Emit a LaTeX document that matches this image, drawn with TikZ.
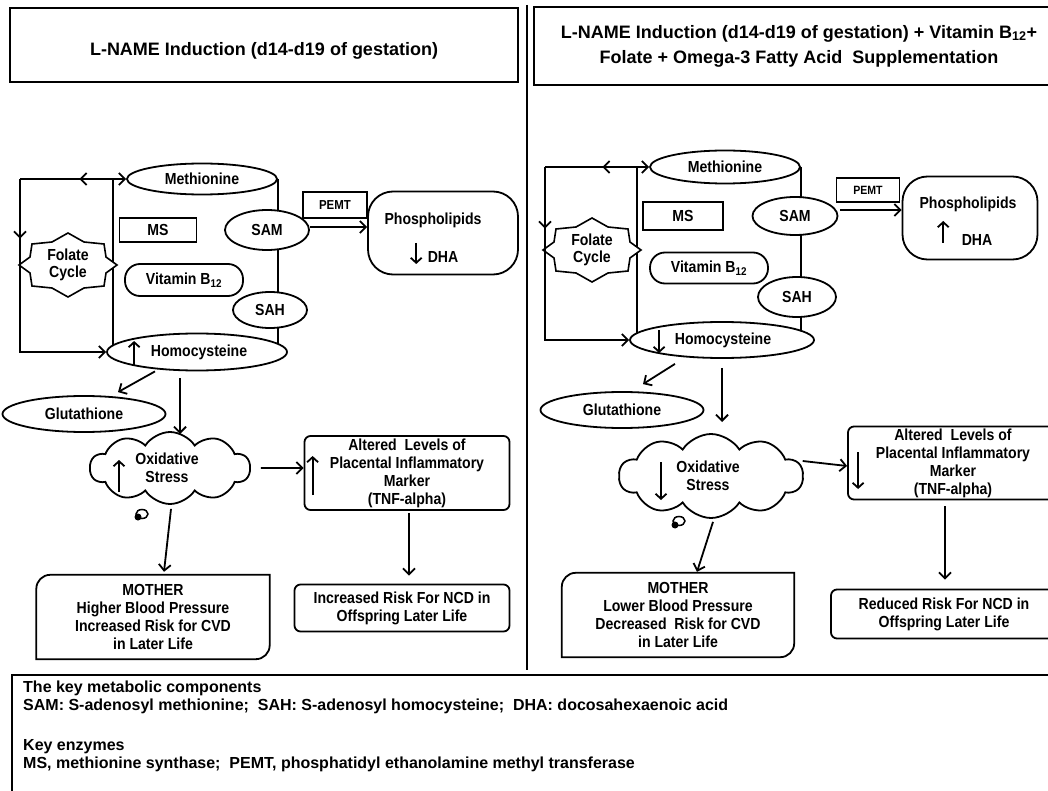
\documentclass[tikz,border=0pt]{standalone}
\usepackage{fontspec}
\setmainfont{Liberation Sans}
\newfontfamily\nodefont[FakeStretch=0.88]{Liberation Sans}
\usetikzlibrary{shapes.geometric, shapes.symbols, arrows.meta, calc, backgrounds, decorations.markings}

% box with two rounded corners (top left, bottom right)
\newcommand{\diagframe}[1]{\draw[line] (#1.north east) -- ([xshift=14pt]#1.north west) arc[start angle=90, end angle=180, radius=14pt] -- (#1.south west) -- ([xshift=-14pt]#1.south east) arc[start angle=270, end angle=360, radius=14pt] -- cycle;}
% eight-point seal round a centre (about 98 x 64)
\newcommand{\sealpath}[1]{\draw[line width=1.6pt, fill=white] (#1) +(49,0) -- +(38,8) -- +(36,21) -- +(16,23) -- +(0,32) -- +(-16,23) -- +(-36,21) -- +(-38,8) -- +(-49,0) -- +(-38,-8) -- +(-36,-21) -- +(-16,-23) -- +(0,-32) -- +(16,-23) -- +(36,-21) -- +(38,-8) -- cycle;}

\begin{document}
\begin{tikzpicture}[x=1pt, y=-1pt,
    font=\nodefont\bfseries\fontsize{16}{18}\selectfont,
    line/.style={line width=1.8pt},
    arr/.style={line width=1.8pt, -{Straight Barb[length=6pt, width=12pt]}},
    inarr/.style={line width=1.8pt, -{Straight Barb[length=5pt, width=11pt]}},
    midarrow/.style={postaction={decorate, decoration={markings, mark=at position #1 with {\arrow{Straight Barb[length=6pt, width=12pt]}}}}},
    midback/.style={postaction={decorate, decoration={markings, mark=at position #1 with {\arrowreversed{Straight Barb[length=6pt, width=12pt]}}}}},
    oval/.style={ellipse, draw, line width=1.8pt, fill=white, inner sep=0pt},
    box/.style={rectangle, draw, line width=1.8pt, fill=white, inner sep=0pt, align=center},
    rbox/.style={box, rounded corners=6pt},
    pill/.style={box, rounded corners=15pt},
    plain/.style={rectangle, fill=white, inner sep=0pt, align=center},
    puff/.style={cloud, cloud puffs=10, cloud puff arc=115, cloud ignores aspect, draw, line width=1.8pt, fill=white, inner sep=0pt, align=center},
    titlefont/.style={font=\bfseries\fontsize{18}{25}\selectfont},
    sealfont/.style={align=center, font=\nodefont\bfseries\fontsize{16}{17}\selectfont}
    ]
    \useasboundingbox (0,0) rectangle (1048,791);

    % Titles
    \node[box, minimum width=508, minimum height=74] (ltitle) at (264,45) {};
    \node[titlefont] (ltitletxt) at (264,51) {L-NAME Induction (d14-d19 of gestation)};
    \node[box, titlefont, minimum width=530, minimum height=78] (rtitle) at (799,46)
        {L-NAME Induction (d14-d19 of gestation) + Vitamin B\textsubscript{12}+\\Folate + Omega-3 Fatty Acid\ \ Supplementation};
    \draw[line] (527,5) -- (527,670);

    % ---------------- left panel ----------------
    \coordinate (lc) at (20,179);
    \coordinate (lcyl) at (113,179);
    \coordinate (lfolc) at (68,265);
    \node[oval, minimum width=150, minimum height=31] (lmet) at (202,179) {Methionine};
    \node[box, minimum width=77, minimum height=24] (lms) at (158,230) {MS};
    \node[pill, minimum width=118, minimum height=32] (lvit) at (184,280) {Vitamin B\textsubscript{12}};
    \node[oval, minimum width=84, minimum height=40] (lsam) at (267,230) {SAM};
    \node[oval, minimum width=74, minimum height=36] (lsah) at (270,310) {SAH};
    \node[oval, minimum width=180, minimum height=37] (lhom) at (197,352) {\hspace{4pt}Homocysteine};
    \node[box, minimum width=64, minimum height=26, font=\nodefont\bfseries\fontsize{13}{14}\selectfont] (lpemt) at (335,205) {PEMT};
    \node[box, rounded corners=25pt, minimum width=150, minimum height=83] (lphos) at (443,233) {};
    \node (lphostxt) at (433,220) {Phospholipids};
    \node (ldha) at (443,257) {DHA};
    \sealpath{lfolc}
    \node[sealfont] (lfol) at (lfolc) {Folate\\Cycle};
    \node[oval, minimum width=163, minimum height=36] (lglu) at (84,414) {Glutathione};
    \node[puff, minimum width=160, minimum height=72] (lox) at (170,468) {\hspace{-6pt}Oxidative\\\hspace{-6pt}Stress};
    \node[rbox, minimum width=205, minimum height=74] (linf) at (407,473) {Altered\ \ Levels of\\Placental Inflammatory\\Marker\\(TNF-alpha)};
    \node[rbox, minimum width=215, minimum height=47] (lrisk) at (402,608) {Increased Risk For NCD in\\Offspring Later Life};
    \node[plain, minimum width=233, minimum height=84] (lmom) at (153,617) {MOTHER\\Higher Blood Pressure\\Increased Risk for CVD\\in Later Life};
    \diagframe{lmom}

    \begin{scope}[on background layer]
        \draw[line] (lcyl) -- (lcyl |- lhom);
        \draw[line] (lmet.east) -- (lmet.east |- lhom);
    \end{scope}

    % Arrows
    \draw[arr, midback=0.56] (lc) -- (lc -| lmet.west);
    \draw[arr, midarrow=0.23] (lc) |- (lhom.west);
    \draw[arr] ($(lsam.east)+(0,-3)$) -- ($(lsam.east -| lphos.west)+(0,-3)$);
    \draw[arr] ($(lhom.south)+(-42,0)$) -- ($(lglu.north)+(34,-3)$);
    \draw[arr] ($(lhom.south)+(-17,7)$) -- ($(lox.center)+(10,-34)$);
    \draw[arr] ($(lox.east)+(10,0)$) -- ($(linf.west)+(0,-5)$);
    \draw[arr] ($(lox.south)+(1,4)$) -- ($(lmom.north)+(11,-3)$);
    \draw[arr] ($(linf.south)+(2,2)$) -- ($(lrisk.north)+(7,-8)$);
    \draw[inarr] ($(lhom.west)+(28,13)$) -- ($(lhom.west)+(28,-11)$);
    \draw[inarr] ($(lox.center)+(-51,24)$) -- ($(lox.center)+(-51,-8)$);
    \draw[inarr] ($(linf.west)+(9,22)$) -- ($(linf.west)+(9,-17)$);
    \draw[inarr] ($(ldha.west)+(-8,-14)$) -- ($(ldha.west)+(-8,7)$);
    \draw[line width=1.5pt] (142,514) ellipse (6 and 4.5);
    \fill (138,517) circle (3.5);

    % ---------------- right panel ----------------
    \coordinate (rc) at (545,167);
    \coordinate (rcyl) at (637,167);
    \coordinate (rfolc) at (592,250);
    \node[oval, minimum width=150, minimum height=33] (rmet) at (725,167) {Methionine};
    \node[box, minimum width=80, minimum height=28] (rms) at (683,216) {MS};
    \node[pill, minimum width=118, minimum height=31] (rvit) at (709,268) {Vitamin B\textsubscript{12}};
    \node[oval, minimum width=85, minimum height=38] (rsam) at (795,216) {SAM};
    \node[oval, minimum width=78, minimum height=40] (rsah) at (797,297) {SAH};
    \node[oval, minimum width=184, minimum height=36] (rhom) at (722,340) {\hspace{2pt}Homocysteine};
    \node[box, minimum width=63, minimum height=24, font=\nodefont\bfseries\fontsize{12}{13}\selectfont] (rpemt) at (868,190) {PEMT};
    \node[box, rounded corners=25pt, minimum width=135, minimum height=83] (rphos) at (970,218) {};
    \node (rphostxt) at (968,204) {Phospholipids};
    \node (rdha) at (977,240) {DHA};
    \sealpath{rfolc}
    \node[sealfont] (rfol) at (rfolc) {Folate\\Cycle};
    \node[oval, minimum width=163, minimum height=36] (rglu) at (622,410) {Glutathione};
    \node[puff, minimum width=184, minimum height=84] (rox) at (711,476) {\hspace{-6pt}Oxidative\\\hspace{-6pt}Stress};
    \node[rbox, minimum width=210, minimum height=73] (rinf) at (953,463) {Altered\ \ Levels of\\Placental Inflammatory\\Marker\\(TNF-alpha)};
    \node[rbox, minimum width=226, minimum height=49] (rrisk) at (944,614) {Reduced Risk For NCD in\\Offspring Later Life};
    \node[plain, minimum width=232, minimum height=84] (rmom) at (678,615) {MOTHER\\Lower Blood Pressure\\Decreased\ \ Risk for CVD\\in Later Life};
    \diagframe{rmom}

    \begin{scope}[on background layer]
        \draw[line] (rcyl) -- (rcyl |- rhom);
        \draw[line] (rmet.east) -- (rmet.east |- rhom);
    \end{scope}

    % Arrows
    \draw[arr, midback=0.55] (rc) -- (rc -| rmet.west);
    \draw[arr, midarrow=0.24] (rc) |- (rhom.west);
    \draw[arr] ($(rsam.east)+(2,-6)$) -- ($(rphos.west)+(0,-8)$);
    \draw[arr] ($(rhom.south)+(-47,5)$) -- ($(rglu.north)+(21,-7)$);
    \draw[arr] ($(rhom.south)+(0,9)$) -- ($(rox.center)+(11,-54)$);
    \draw[arr] ($(rox.east)+(-1,-15)$) -- ($(rinf.west)+(0,3)$);
    \draw[arr] ($(rox.south)+(2,3)$) -- ($(rmom.north)+(19,-1)$);
    \draw[arr] ($(rinf.south)+(-8,6)$) -- ($(rrisk.north)+(1,-9)$);
    \draw[inarr] ($(rhom.west)+(30,-10)$) -- ($(rhom.west)+(30,13)$);
    \draw[inarr] ($(rox.center)+(-50,-14)$) -- ($(rox.center)+(-50,24)$);
    \draw[inarr] ($(rinf.west)+(11,-11)$) -- ($(rinf.west)+(11,26)$);
    \draw[inarr] ($(rdha.west)+(-15,3)$) -- ($(rdha.west)+(-15,-19)$);
    \draw[line width=1.5pt] (679,521) ellipse (6 and 4.5);
    \fill (675,525) circle (3.5);

    % ---------------- key ----------------
    \node[box, anchor=north west, minimum width=1049, minimum height=126] (legend) at (11,674) {};
    \begin{scope}[font=\bfseries\fontsize{16}{20}\selectfont]
        \node[anchor=base west, inner sep=0pt] (leg1) at (23,692) {The key metabolic components};
        \node[anchor=base west, inner sep=0pt] (leg2) at (23,710) {SAM: S-adenosyl methionine;\ \ SAH: S-adenosyl homocysteine;\ \ DHA: docosahexaenoic acid};
        \node[anchor=base west, inner sep=0pt] (leg3) at (23,750) {Key enzymes};
        \node[anchor=base west, inner sep=0pt] (leg4) at (23,768) {MS, methionine synthase;\ \ PEMT, phosphatidyl ethanolamine methyl transferase};
    \end{scope}
\end{tikzpicture}
\end{document}
